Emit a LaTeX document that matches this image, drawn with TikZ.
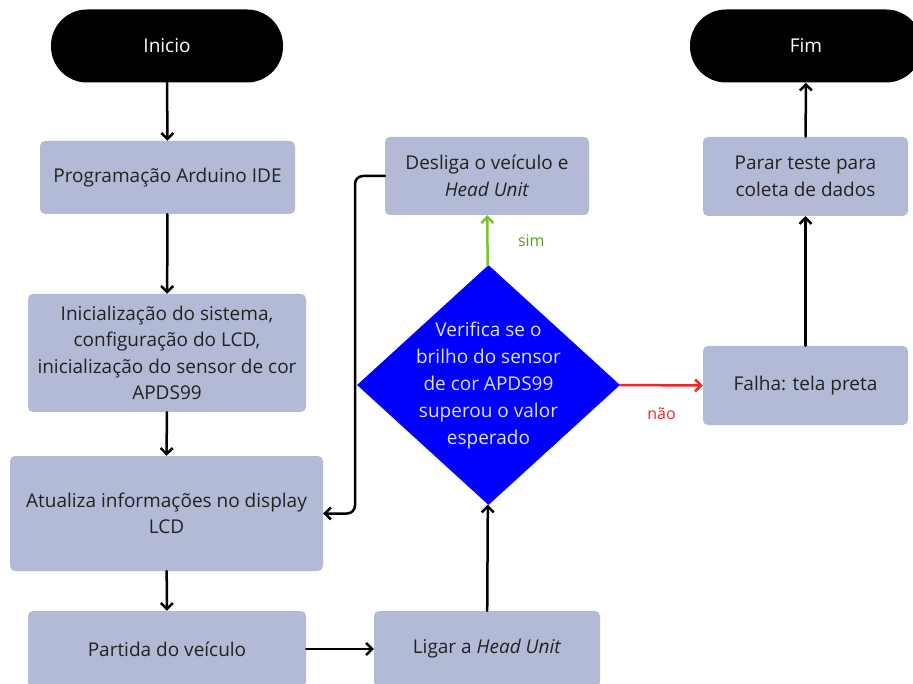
\documentclass[tikz,border=0pt]{standalone}
\usepackage{fontspec}
\setmainfont{Open Sans}
\usetikzlibrary{arrows.meta,shapes.geometric}
\definecolor{boxfill}{HTML}{B3BAD5}
\definecolor{txt}{HTML}{222222}
\definecolor{simgreen}{HTML}{7DC12F}
\definecolor{simtxt}{HTML}{5E9A1E}
\definecolor{naored}{HTML}{F0262B}
\tikzset{
  x=1pt,y=-1pt,
  procbox/.style={draw=none,fill=boxfill,rounded corners=5pt,text=txt,align=center,font=\fontsize{19}{26.5}\selectfont,inner sep=0pt},
  term/.style={fill=black,text=white,rounded corners=36pt,minimum width=232pt,minimum height=73pt,font=\fontsize{19}{22}\selectfont,inner sep=0pt},
  flow/.style={line width=2.5pt,-{Straight Barb[length=6pt,width=12pt,line width=2.5pt]},line cap=round},
  decision/.style={diamond,fill=blue,inner sep=0pt,minimum width=263pt,minimum height=240pt},
  dectxt/.style={text=white!88!blue,align=center,font=\fontsize{19}{27}\selectfont,inner sep=0pt},
  lbl/.style={font=\fontsize{16}{18}\selectfont},
}
\begin{document}
\begin{tikzpicture}
\useasboundingbox (0,0) rectangle (913,684);
\node[term] (ini) at (167,46) {Inicio};
\node[term] (fim) at (806,46) {Fim};
\node[procbox,minimum width=255pt,minimum height=73pt] (prog) at (167.5,177.5) {Programação Arduino IDE};
\node[procbox,minimum width=278pt,minimum height=118pt] (init) at (167,353) {Inicialização do sistema,\\configuração do LCD,\\inicialização do sensor de cor\\APDS99};
\node[procbox,minimum width=313pt,minimum height=115pt] (atu) at (166.5,513.5) {Atualiza informações no display\\LCD};
\node[procbox,minimum width=278pt,minimum height=76pt] (part) at (167,649) {Partida do veículo};
\node[procbox,minimum width=226pt,minimum height=76pt] (liga) at (487,649) {Ligar a \textit{Head Unit}};
\node[decision] (dec) at (488.5,385) {};
\node[dectxt] (dect) at (488.5,386) {Verifica se o\\brilho do sensor\\de cor APDS99\\superou o valor\\esperado};
\node[procbox,minimum width=204pt,minimum height=78pt] (desl) at (487,176) {Desliga o veículo e\\\textit{Head Unit}};
\node[procbox,minimum width=205pt,minimum height=79pt] (parar) at (805.5,176.5) {Parar teste para\\coleta de dados};
\node[procbox,minimum width=205pt,minimum height=79pt] (falha) at (805.5,385.5) {Falha: tela preta};
\draw[flow] (ini) -- (prog);
\draw[flow] (prog) -- (init);
\draw[flow] (init) -- (atu);
\draw[flow] (atu) -- (part);
\draw[flow] (part) -- (liga);
\draw[flow] (liga) -- (dec);
\draw[flow,draw=simgreen] (dec) -- (desl) node[midway,right=26pt,text=simtxt,lbl] {sim};
\draw[flow,draw=naored] (dec.east) -- (falha.west) node[midway,below=18pt,text=naored,lbl] {não};
\draw[flow] (falha) -- (parar);
\draw[flow] (parar) -- (fim);
\draw[flow,rounded corners=8pt] (desl.west) -- (355,176) -- (355,513.5) -- (atu.east);
\end{tikzpicture}
\end{document}
